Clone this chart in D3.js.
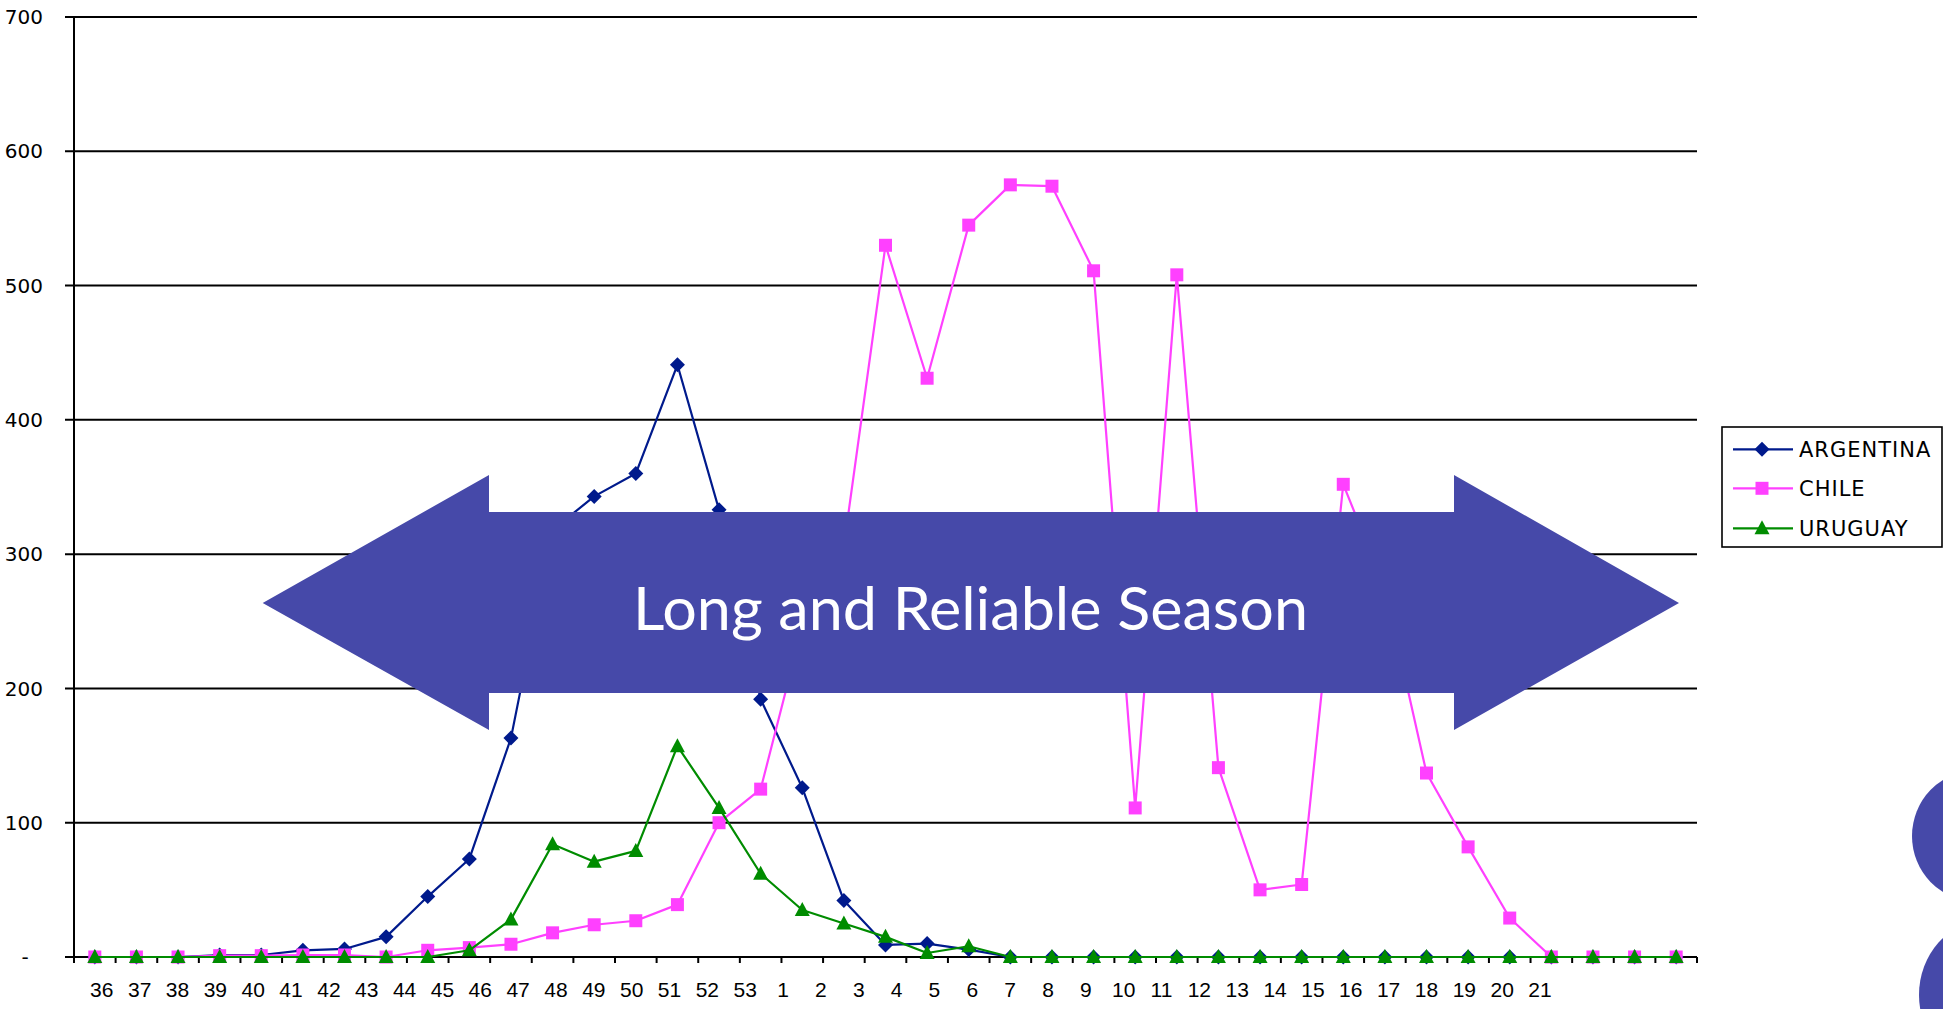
<!DOCTYPE html>
<html>
<head>
<meta charset="utf-8">
<script src="https://cdn.jsdelivr.net/npm/d3@7"></script>
<style>
  html, body { margin: 0; padding: 0; background: #ffffff; overflow: hidden; }
  svg { display: block; }
</style>
</head>
<body>
<svg id="chart" width="1943" height="1009"></svg>
<script>
// ---- Data ----
const weeks = ["36","37","38","39","40","41","42","43","44","45","46","47","48","49","50","51","52","53",
               "1","2","3","4","5","6","7","8","9","10","11","12","13","14","15","16","17","18","19","20","21"];
const argentina = [0,0,0,1.5,1.5,5,6,15,45,73,163,318,343,360,441,333,192,126,42,9,10,5.5,
                   0,0,0,0,0,0,0,0,0,0,0,0,0,0,0,0,0];
const chile     = [0,0,0,1,1,1.5,1.5,0,5,7,9.5,18,24,27,39,100,125,246,306,530,431,545,575,574,511,111,508,141,50,54,352,275,137,82,29,0,0,0,0];
const uruguay   = [0,0,0,0,0,0,0,0,0,5,28,84,71,79,157,111,62,35,25,15,3,8,
                   0,0,0,0,0,0,0,0,0,0,0,0,0,0,0,0,0];
const yTicks = [0,100,200,300,400,500,600,700];
const seriesNames = ["ARGENTINA","CHILE","URUGUAY"];
const bannerText = "Long and Reliable Season";

(function () {
// ---- Layout ----
const svg = d3.select("#chart");
const pLeft = 74, pRight = 1697, pTop = 17, pBottom = 957;

const x = d3.scaleBand().domain(weeks).range([pLeft, pRight]).paddingInner(0).paddingOuter(0);
const xc = w => x(w) + x.bandwidth() / 2;
const xLabel = d3.scalePoint().domain(weeks).range([101.8, 1540]);
const y = d3.scaleLinear().domain([0, 700]).range([pBottom, pTop]);

const colors = { ARGENTINA: "#001a8c", CHILE: "#ff40ff", URUGUAY: "#008c00" };

// gridlines
svg.append("g").selectAll("line").data(yTicks).join("line")
  .attr("x1", pLeft - 9).attr("x2", pRight)
  .attr("y1", d => y(d)).attr("y2", d => y(d))
  .attr("stroke", "#000").attr("stroke-width", 2);

// y axis line
svg.append("line").attr("x1", pLeft).attr("x2", pLeft).attr("y1", pTop).attr("y2", pBottom)
  .attr("stroke", "#000").attr("stroke-width", 2);

// y labels
svg.append("g").selectAll("text").data(yTicks).join("text")
  .attr("x", d => d === 0 ? 25 : 43)
  .attr("y", d => y(d))
  .attr("dy", "0.36em")
  .attr("text-anchor", d => d === 0 ? "middle" : "end")
  .attr("font-family", "DejaVu Sans, Verdana, sans-serif")
  .attr("font-size", 20)
  .attr("fill", "#000")
  .text(d => d === 0 ? "-" : d3.format("d")(d));

// x ticks at category boundaries
const boundaries = weeks.map(w => x(w)).concat([x(weeks[weeks.length - 1]) + x.bandwidth()]);
svg.append("g").selectAll("line").data(boundaries).join("line")
  .attr("x1", d => d).attr("x2", d => d)
  .attr("y1", pBottom).attr("y2", pBottom + 6)
  .attr("stroke", "#000").attr("stroke-width", 2);

// x labels
svg.append("g").selectAll("text").data(weeks).join("text")
  .attr("x", d => xLabel(d))
  .attr("y", 997)
  .attr("text-anchor", "middle")
  .attr("font-family", "Liberation Sans, Arial, sans-serif")
  .attr("font-size", 21)
  .attr("fill", "#000")
  .text(d => d);

// markers
function markerPath(type) {
  if (type === "ARGENTINA") return "M0,-7.5L7.5,0L0,7.5L-7.5,0Z";
  if (type === "CHILE") return "M-6.5,-6.5H6.5V6.5H-6.5Z";
  return "M0,-8L7.5,6L-7.5,6Z";
}

const series = [
  { name: "ARGENTINA", values: argentina },
  { name: "CHILE", values: chile },
  { name: "URUGUAY", values: uruguay }
];

const line = d3.line().x((d, i) => xc(weeks[i])).y(d => y(d));

series.forEach(s => {
  const g = svg.append("g");
  g.append("path").datum(s.values)
    .attr("d", line)
    .attr("fill", "none")
    .attr("stroke", colors[s.name])
    .attr("stroke-width", 2.2)
    .attr("stroke-linejoin", "round");
  g.selectAll("path.m").data(s.values).join("path")
    .attr("class", "m")
    .attr("d", markerPath(s.name))
    .attr("transform", (d, i) => `translate(${xc(weeks[i])},${y(d)})`)
    .attr("fill", colors[s.name]);
});

// double-headed arrow banner
const arrowColor = "#4649a9";
const ax0 = 262.7, ax1 = 1679, ahL = 489, ahR = 1454;
const ayMid = 603, headTop = 475, headBot = 730, bodyTop = 512, bodyBot = 693;
const arrowPts = [
  [ax0, ayMid], [ahL, headTop], [ahL, bodyTop], [ahR, bodyTop], [ahR, headTop],
  [ax1, ayMid], [ahR, headBot], [ahR, bodyBot], [ahL, bodyBot], [ahL, headBot]
];
svg.append("path")
  .attr("d", d3.line()(arrowPts) + "Z")
  .attr("fill", arrowColor);

svg.append("text")
  .attr("x", 970.5).attr("y", 630)
  .attr("text-anchor", "middle")
  .attr("font-family", "Lato, 'Open Sans', sans-serif")
  .attr("font-size", 60)
  .attr("fill", "#ffffff")
  .attr("textLength", 675)
  .attr("lengthAdjust", "spacingAndGlyphs")
  .text(bannerText);

// legend
const lg = svg.append("g");
lg.append("rect").attr("x", 1722).attr("y", 427).attr("width", 220).attr("height", 120)
  .attr("fill", "#fff").attr("stroke", "#000").attr("stroke-width", 1.6);
const legendRowY = [449.3, 488.3, 528.3];
series.forEach((s, i) => {
  const yy = legendRowY[i];
  lg.append("line").attr("x1", 1733).attr("x2", 1793).attr("y1", yy).attr("y2", yy)
    .attr("stroke", colors[s.name]).attr("stroke-width", 2.2);
  lg.append("path").attr("d", markerPath(s.name))
    .attr("transform", `translate(1762,${yy})`).attr("fill", colors[s.name]);
  lg.append("text").attr("x", 1799).attr("y", yy + 8)
    .attr("font-family", "DejaVu Sans, Verdana, sans-serif")
    .attr("font-size", 21)
    .attr("letter-spacing", 1)
    .attr("fill", "#000")
    .text(s.name);
});

// decorative shapes at right edge
svg.append("ellipse").attr("cx", 1975).attr("cy", 836).attr("rx", 63).attr("ry", 65).attr("fill", arrowColor);
svg.append("ellipse").attr("cx", 1985).attr("cy", 995).attr("rx", 66).attr("ry", 74).attr("fill", arrowColor);
})();
</script>
</body>
</html>
